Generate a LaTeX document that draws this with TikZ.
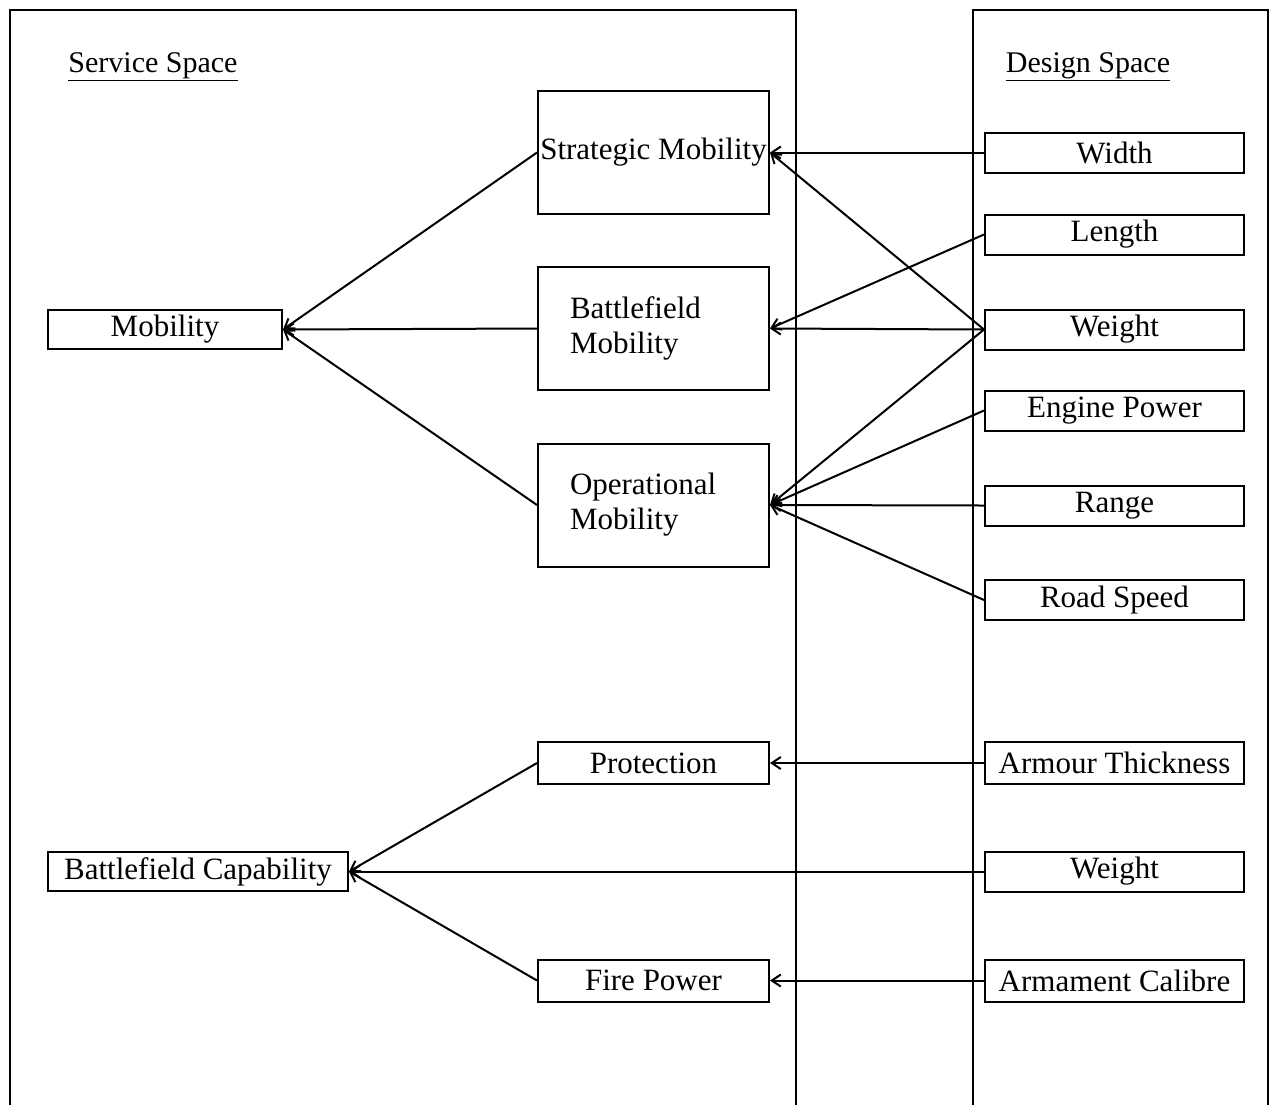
\documentclass[tikz,border=0pt]{standalone}
\usepackage{fontspec}
\setmainfont{Liberation Serif}
\usetikzlibrary{arrows.meta}
\begin{document}
\begin{tikzpicture}[x=1pt,y=-1pt,
	box/.style={draw,line width=2pt,inner sep=0pt,font=\fontsize{31}{35}\selectfont},
	sbox/.style={box,minimum width=231pt,minimum height=123pt},
	tbox/.style={box,minimum width=231pt,minimum height=42pt},
	dbox/.style={box,minimum width=259pt,minimum height=40pt},
	twoline/.style={sbox,align=left,text width=167pt,inner xsep=32pt},
	arr/.style={line width=2pt,-{Straight Barb[length=9pt,width=12pt]}},
	title/.style={font=\fontsize{30}{35}\selectfont}]
			\useasboundingbox (0,0) rectangle (1279,1104);
			% the two spaces
			\draw[line width=2pt] (10,1110) -- (10,10) -- (796,10) -- (796,1110);
			\draw[line width=2pt] (973,1110) -- (973,10) -- (1268,10) -- (1268,1110);
			\node[title] (servt) at (153,67) {\underline{Service Space}};
			\node[title] (dest) at (1088,67) {\underline{Design Space}};
			% service space
			\node[box,minimum width=234pt,minimum height=39pt] (mob) at (165,329.5) {Mobility};
			\node[box,minimum width=300pt,minimum height=39pt] (bcap) at (198,871.5) {Battlefield Capability};
			\node[sbox] (strat) at (653.5,152.5) {Strategic Mobility};
			\node[twoline] (bfmob) at (653.5,328.5) {Battlefield\\Mobility};
			\node[twoline] (opmob) at (653.5,505) {Operational\\Mobility};
			\node[tbox] (prot) at (653.5,763) {Protection};
			\node[tbox] (fire) at (653.5,980.5) {Fire Power};
			% design space
			\node[dbox] (width) at (1114.5,152.5) {Width};
			\node[dbox] (length) at (1114.5,234.5) {Length};
			\node[dbox] (weighta) at (1114.5,329.5) {Weight};
			\node[dbox] (engine) at (1114.5,410.5) {Engine Power};
			\node[dbox] (range) at (1114.5,505.5) {Range};
			\node[dbox] (road) at (1114.5,600) {Road Speed};
			\node[dbox,minimum height=42pt] (armour) at (1114.5,763) {Armour Thickness};
			\node[dbox] (weightb) at (1114.5,871.5) {Weight};
			\node[dbox,minimum height=42pt] (calibre) at (1114.5,980.5) {Armament Calibre};
			% connectors
			\draw[arr] (strat.west) -- (mob.east);
			\draw[arr] (bfmob.west) -- (mob.east);
			\draw[arr] (opmob.west) -- (mob.east);
			\draw[arr] (width.west) -- (strat.east);
			\draw[arr] (weighta.west) -- (strat.east);
			\draw[arr] (length.west) -- (bfmob.east);
			\draw[arr] (weighta.west) -- (bfmob.east);
			\draw[arr] (weighta.west) -- (opmob.east);
			\draw[arr] (engine.west) -- (opmob.east);
			\draw[arr] (range.west) -- (opmob.east);
			\draw[arr] (road.west) -- (opmob.east);
			\draw[arr] (prot.west) -- (bcap.east);
			\draw[arr] (weightb.west) -- (bcap.east);
			\draw[arr] (fire.west) -- (bcap.east);
			\draw[arr] (armour.west) -- (prot.east);
			\draw[arr] (calibre.west) -- (fire.east);
		\end{tikzpicture}
\end{document}
